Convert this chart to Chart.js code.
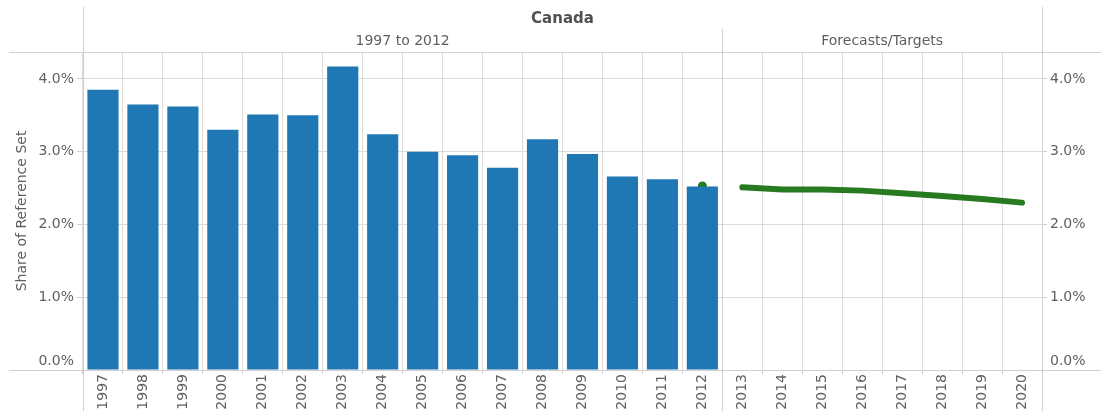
<!DOCTYPE html>
<html>
<head>
<meta charset="utf-8">
<script src="https://cdn.jsdelivr.net/npm/chart.js@4.4.1/dist/chart.umd.min.js"></script>
<style>
html,body{margin:0;padding:0;background:#fff;overflow:hidden}
#wrap{width:1101px;height:411px;position:relative}
canvas{display:block}
</style>
</head>
<body>
<div id="wrap"><canvas id="c" width="1101" height="411"></canvas></div>
<script>
// ---- data ----
const chartTitle = 'Canada';
const years = ['1997','1998','1999','2000','2001','2002','2003','2004','2005','2006','2007','2008','2009','2010','2011','2012','2013','2014','2015','2016','2017','2018','2019','2020'];
const actualShare = [3.85,3.65,3.62,3.30,3.51,3.50,4.17,3.24,3.00,2.95,2.78,3.17,2.97,2.66,2.62,2.52,null,null,null,null,null,null,null,null];
const lastActualPoint = [null,null,null,null,null,null,null,null,null,null,null,null,null,null,null,2.53,null,null,null,null,null,null,null,null];
const forecastShare = [null,null,null,null,null,null,null,null,null,null,null,null,null,null,null,null,2.51,2.48,2.48,2.465,2.43,2.39,2.35,2.30];
const panelTitles = ['1997 to 2012','Forecasts/Targets'];
const panelFirst = ['1997','2013'];
const panelLast = ['2012','2020'];
const yAxisTitle = 'Share of Reference Set';
const yMax = 4.37;

const FONT = '"DejaVu Sans", Verdana, sans-serif';
const TXT = '#5f5f5f';
const GRID = '#dcdcdc';
const FRAME = '#d0d0d0';

const fmt = v => v === 0 ? ['0.0%', ''] : v.toFixed(1) + '%';

const framePlugin = {
  id: 'frame',
  beforeDatasetsDraw(chart) {
    const ctx = chart.ctx, a = chart.chartArea, x = chart.scales.x;
    const half = (x.getPixelForValue(1) - x.getPixelForValue(0)) / 2;
    const divX = x.getPixelForValue(years.indexOf(panelLast[0])) + half;
    ctx.save();
    ctx.strokeStyle = FRAME;
    ctx.lineWidth = 1;
    const H = chart.height, W = chart.width;
    const line = (x1, y1, x2, y2) => { ctx.beginPath(); ctx.moveTo(x1, y1); ctx.lineTo(x2, y2); ctx.stroke(); };
    line(9, Math.round(a.top) + 0.5, W, Math.round(a.top) + 0.5);
    line(9, Math.round(a.bottom) + 0.5, W, Math.round(a.bottom) + 0.5);
    line(Math.round(a.left) + 0.5, 7, Math.round(a.left) + 0.5, H);
    line(Math.round(a.right) + 0.5, 7, Math.round(a.right) + 0.5, H);
    line(Math.round(divX) + 0.5, 29, Math.round(divX) + 0.5, H);
    ctx.restore();
  },
  afterDraw(chart) {
    const ctx = chart.ctx, a = chart.chartArea, x = chart.scales.x;
    const half = (x.getPixelForValue(1) - x.getPixelForValue(0)) / 2;
    ctx.save();
    ctx.textAlign = 'center';
    ctx.textBaseline = 'middle';
    ctx.fillStyle = '#505050';
    ctx.font = 'bold 15px ' + FONT;
    ctx.fillText(chartTitle, (a.left + a.right) / 2, 19);
    ctx.font = '14px ' + FONT;
    ctx.fillStyle = TXT;
    panelTitles.forEach((t, i) => {
      const l = x.getPixelForValue(years.indexOf(panelFirst[i])) - half;
      const r = x.getPixelForValue(years.indexOf(panelLast[i])) + half;
      ctx.fillText(t, (l + r) / 2, 41);
    });
    ctx.restore();
  }
};

new Chart(document.getElementById('c'), {
  type: 'bar',
  data: {
    labels: years,
    datasets: [
      {
        type: 'bar',
        label: 'Share',
        data: actualShare,
        backgroundColor: '#1f77b4',
        borderWidth: 0,
        barPercentage: 0.78,
        categoryPercentage: 1.0,
        order: 1
      },
      {
        type: 'line',
        label: 'Last actual',
        data: lastActualPoint,
        borderColor: '#277a1f',
        backgroundColor: '#277a1f',
        pointRadius: 4.5,
        pointBorderWidth: 0,
        showLine: false,
        order: 3
      },
      {
        type: 'line',
        label: 'Forecast',
        data: forecastShare,
        borderColor: '#277a1f',
        borderWidth: 6,
        borderCapStyle: 'round',
        borderJoinStyle: 'round',
        pointRadius: 0,
        tension: 0,
        spanGaps: false,
        order: 0
      }
    ]
  },
  options: {
    responsive: false,
    animation: false,
    devicePixelRatio: 1,
    layout: { padding: { top: 52, left: 0, right: 0, bottom: 0 } },
    plugins: { legend: { display: false }, tooltip: { enabled: false }, title: { display: false } },
    scales: {
      x: {
        offset: true,
        afterFit(s) { s.height = 41; },
        grid: { offset: true, color: GRID, tickColor: FRAME, tickLength: 4, drawTicks: true },
        border: { display: false },
        ticks: { autoSkip: false, minRotation: 90, maxRotation: 90, color: TXT, font: { family: FONT, size: 14 }, padding: 0 }
      },
      y: {
        position: 'left',
        min: 0, max: yMax,
        afterFit(s) { s.width = 83; },
        grid: { color: GRID, tickColor: FRAME, tickLength: 6 },
        border: { display: false },
        ticks: { stepSize: 1, includeBounds: false, color: TXT, font: { family: FONT, size: 14 }, padding: 3, callback: fmt },
        title: { display: true, text: yAxisTitle, color: TXT, font: { family: FONT, size: 14 }, padding: { top: 13.6, bottom: 0 } }
      },
      y2: {
        position: 'right',
        min: 0, max: yMax,
        afterFit(s) { s.width = 59; },
        grid: { drawOnChartArea: false, tickColor: FRAME, tickLength: 5 },
        border: { display: false },
        ticks: { stepSize: 1, includeBounds: false, color: TXT, font: { family: FONT, size: 14 }, padding: 3, callback: fmt }
      }
    }
  },
  plugins: [framePlugin]
});
</script>
</body>
</html>
